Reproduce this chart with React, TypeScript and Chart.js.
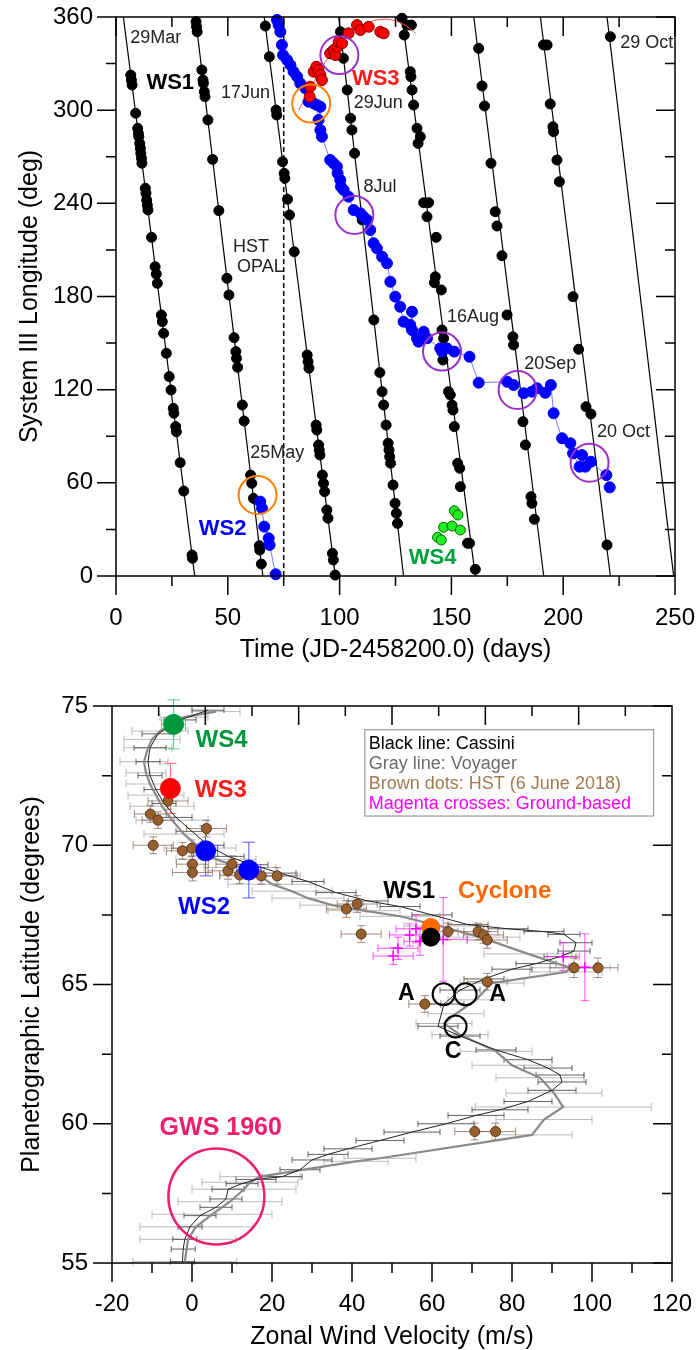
import React, { useEffect, useRef } from 'react';
import { Chart, registerables } from 'chart.js';

Chart.register(...registerables);

const FONT = "'Liberation Sans', Arial, Helvetica, sans-serif";

/* ================= Panel 1 : System III longitude drift ================= */
const timeAxis = { min: 0, max: 250, step: 50, minor: 25 };
const lonAxis = { min: 0, max: 360, step: 60, minor: 30 };

// WS1 drift lines: day at which each line crosses 360 deg and 0 deg
const driftLineStartDay = [3.3, 35.5, 66.3, 99.6, 127.9, 160.0, 189.8, 219.6];
const driftLineEndDay = [35.2, 65.7, 98.1, 128.6, 160.7, 191.3, 221.1, 249.4];

// WS1 measurements [day, longitude]
const ws1Dots = [
  [6.6, 322.6], [6.9, 319.4], [7.2, 316.2], [8.8, 298], [9.7, 288.3], [10.0, 285.1], [10.2, 282.9],
  [10.6, 278.6], [10.9, 275.4], [11.1, 272.2], [11.4, 269], [11.6, 265.8], [13.1, 249.7], [13.4, 246.5],
  [13.7, 242.1], [14.0, 238.9], [14.3, 235.7], [15.9, 218.1], [17.5, 199.2], [18.0, 194.5], [18.5, 188.5],
  [20.3, 168.1], [20.7, 163.8], [21.3, 156.3], [22.5, 143.4], [23.8, 128.4], [24.6, 119.8], [25.6, 108],
  [25.9, 104.8], [26.7, 96.2], [27.0, 92.9], [28.7, 73], [30.3, 54.7], [34.0, 13.5], [34.2, 11.4],
  [35.8, 357], [36.0, 353.8], [36.3, 350.5], [38.4, 325.9], [38.9, 319.4], [39.1, 317.3], [39.5, 311.9],
  [39.8, 308.7], [41.1, 293.7], [43.2, 268.3], [46.0, 235.3], [49.6, 191.7], [50.5, 181], [52.8, 153.5],
  [53.6, 144.5], [53.9, 140.2], [54.4, 134.4], [56.5, 110.1], [57.3, 99.8], [60.2, 65], [60.7, 59.7],
  [61.5, 50], [64.1, 19.5], [64.3, 16.7], [65.0, 7.7],
  [66.8, 354.2], [68.6, 334.4], [71.6, 300.1], [71.9, 296.9], [74.5, 266.8], [75.2, 259.3], [75.5, 256.1],
  [76.7, 242.6], [77.6, 232.5], [79.7, 208.8], [85.5, 142.3], [85.9, 138], [86.3, 133.8], [89.5, 97.2],
  [89.8, 94], [90.6, 84.4], [90.9, 81.1], [91.2, 77.9], [92.3, 65], [92.8, 59.7], [93.3, 54.3], [94.3, 42.5],
  [94.8, 37.2], [96.8, 14.6], [97.2, 10.3], [98.0, 0.6],
  [100.4, 350.5], [101.0, 343], [101.7, 333.4], [103.4, 313], [104.9, 294.8], [105.5, 287.2], [106.7, 272.2],
  [110.1, 229.3], [115.3, 164.9], [118.0, 131], [119.0, 118.7], [119.7, 110.1], [120.8, 97.2], [121.7, 85.5],
  [122.1, 81.1], [122.4, 76.8], [122.8, 72.6], [123.9, 58.6], [124.8, 46.8], [125.4, 40.4], [125.9, 33.9],
  [127.9, 359.2], [130.1, 354.8], [132.1, 354.8], [128.9, 348.4], [131.6, 324.8], [131.9, 321.6], [132.4, 313],
  [133.1, 303.3], [134.6, 288.3], [136.1, 282.9], [135.1, 278.6], [137.6, 240.4], [139.8, 240.4], [139.1, 231.4],
  [143.2, 218.1], [142.8, 192.7], [142.4, 188.9], [145.5, 184.2], [145.8, 158.4], [146.5, 153.1], [146.2, 139.1],
  [148.7, 118.7], [149.5, 116.6], [150.3, 110.1], [150.7, 106.9], [151.3, 96.2], [152.8, 72.6], [153.7, 69.4],
  [154.0, 57.5], [157.2, 21.1], [158.1, 21.1], [160.7, 4.3],
  [162.2, 339.8], [163.7, 315.6], [164.8, 302.7], [167.7, 265.8], [169.6, 234.6], [170.4, 225.4], [172.6, 206.3],
  [174.9, 168.1], [177.5, 154.1], [177.8, 148.8], [182.0, 99.4], [183.1, 84.4], [185.6, 51.1], [186.0, 46.8],
  [187.1, 36.5],
  [191.2, 342], [192.8, 342], [194.2, 304], [195.4, 289.3], [195.7, 286.1], [197.2, 267.9], [198.3, 253.9],
  [204.4, 179.9], [206.9, 146], [210.2, 109], [212.4, 104.3], [219.6, 20],
  [221.1, 347.3],
];

// WS2 [day, longitude], before and after wrapping through 0/360 deg
const ws2EarlyDots = [[64.5, 47.9], [65.3, 43.6], [66.3, 31.8], [68.3, 24.3], [68.7, 20.0], [71.4, 1.1]];
const ws2LateDots = [
  [72.0, 358.1], [72.7, 354.8], [73.5, 350.5], [74.2, 342], [74.7, 335.5], [76.5, 332.3], [78.0, 329.1],
  [79.4, 324.8], [81.0, 321.6], [82.4, 317.3], [84.7, 314.1], [86.1, 305.5], [88.4, 304.4], [89.9, 303.3],
  [90.6, 293.7], [91.4, 302.2], [91.4, 287.2], [92.1, 282.9], [95.8, 267.9], [97.3, 265.8], [98.8, 263.6],
  [99.1, 259.3], [100.3, 255], [100.6, 250.7], [101.8, 248.6], [104.0, 244.3], [106.3, 235.7], [109.3, 233.6],
  [110.7, 231.4], [112.3, 229.3], [113.7, 222.8], [115.2, 214.3], [116.7, 211], [119.0, 205.6], [121.2, 201.4],
  [122.7, 189.5], [124.9, 179.9], [127.1, 173.4], [128.6, 163.8], [131.6, 161.6], [132.4, 170.2], [132.4, 158.4],
  [134.6, 153.1], [135.3, 150.9], [137.6, 157.3], [139.1, 153.1], [145.0, 146.6], [145.8, 144.5], [148.0, 146.6],
  [151.3, 144.5], [158.1, 141.2], [162.2, 124.5], [174.9, 125.1], [177.8, 123], [182.3, 117.7], [186.0, 118.7],
  [188.3, 120.9], [192.0, 118], [194.5, 123], [195.7, 104.8], [199.5, 88.7], [203.2, 85.5], [204.4, 79],
  [207.3, 70.4], [208.4, 77.9], [209.9, 70.4], [212.4, 73.6], [219.3, 65], [220.8, 57.1],
];

// WS3 [day, longitude]
const ws3Dots = [
  [86.6, 308.7], [86.9, 315.1], [88.4, 324.8], [89.6, 328], [90.6, 325.9], [91.4, 322.6], [92.1, 319.4],
  [95.8, 336.6], [97.3, 338.7], [98.1, 335.5], [99.1, 340.9], [99.6, 344.1], [101.1, 343], [104.0, 349.5],
  [107.8, 354.8], [109.3, 351.6], [113.0, 353.7], [118.2, 350.5], [119.7, 349.5],
];
const ws3FitCurve = [
  [81.7, 300], [87.7, 316], [95, 334], [104, 349], [112, 356], [119, 358.5], [125, 357.5], [130, 354], [134, 349.5],
];

// WS4 [day, longitude]
const ws4Dots = [[143.8, 24.9], [145.5, 23.2], [146.5, 31.4], [150.3, 32.2], [151.3, 42], [152.9, 39.3], [154.0, 29.6]];

const hstOpalDay = 75;
const orangeMarks = [[63.3, 52.2], [87.3, 304.3]];
const purpleMarks = [[99.9, 335.5], [106.6, 232.5], [145.8, 144.5], [179.6, 119.8], [211.8, 73]];

const panel1Labels = [
  { text: '29Mar', x: 6.4, y: 346.5, kind: 'date' },
  { text: 'WS1', x: 13.6, y: 317.3, kind: 'ws1' },
  { text: '17Jun', x: 47, y: 310.9, kind: 'date' },
  { text: 'WS3', x: 105.5, y: 320, kind: 'ws3' },
  { text: '29Jun', x: 106.3, y: 304.4, kind: 'date' },
  { text: '8Jul', x: 110.7, y: 250.7, kind: 'date' },
  { text: 'HST', x: 52.3, y: 211.9, kind: 'date' },
  { text: 'OPAL', x: 54.1, y: 199, kind: 'date' },
  { text: '25May', x: 60, y: 79.5, kind: 'date' },
  { text: 'WS2', x: 37, y: 30.3, kind: 'ws2' },
  { text: 'WS4', x: 130.9, y: 11.9, kind: 'ws4' },
  { text: '16Aug', x: 148, y: 167, kind: 'date' },
  { text: '20Sep', x: 182.6, y: 136.5, kind: 'date' },
  { text: '20 Oct', x: 215.1, y: 92.4, kind: 'date' },
  { text: '29 Oct', x: 225.5, y: 343, kind: 'date' },
];

/* ================= Panel 2 : zonal wind profile ================= */
const windAxis = { min: -20, max: 120, step: 20, minor: 10 };
const latAxis = { min: 55, max: 75, step: 5, minor: 2.5 };

// Voyager profile [wind m/s, latitude, wind error]
const voyagerProfile = [
  [6, 74.8, 6], [-2, 74.6, 6], [-8, 74.1, 7], [-10, 73.8, 7], [-11, 73.5, 6], [-12, 73.0, 6], [-11.5, 72.6, 5],
  [-10.5, 72.2, 6], [-9, 71.8, 7], [-7.5, 71.4, 8], [-5, 70.9, 9], [-2, 70.4, 10], [2, 69.9, 9], [6, 69.5, 10],
  [12, 69.2, 9], [17, 68.9, 10], [20, 68.6, 11], [25, 68.35, 10], [29, 68.1, 9], [35, 67.85, 8], [43, 67.65, 9],
  [52, 67.45, 10], [62, 67.1, 9], [72, 66.7, 10], [84, 66.1, 11], [94.5, 65.6, 10], [93.5, 65.45, 9],
  [75, 65.05, 8], [71, 64.45, 7], [66, 63.95, 7], [63, 63.6, 7], [67, 63.2, 7], [76, 62.6, 9], [80, 62.1, 10],
  [87, 61.65, 11], [90.5, 61.1, 12], [92.8, 60.6, 22], [88, 60.15, 12], [85, 59.6, 10], [47, 58.76, 9],
  [41, 58.65, 8], [17, 58.1, 10], [14.5, 57.9, 12], [13, 57.65, 13], [9.5, 57.2, 13], [5, 56.75, 15],
  [1, 56.3, 14], [-1, 55.85, 12], [-1.8, 55.05, 13],
];

// Cassini profile [wind m/s, latitude, wind error]
const cassiniProfile = [
  [4, 74.85, 4], [-3, 74.5, 4], [-8.5, 74.0, 4], [-10.5, 73.5, 4], [-11, 73.0, 3], [-10.5, 72.5, 3], [-9, 72.0, 3],
  [-7, 71.5, 3], [-4, 71.0, 4], [0, 70.5, 4], [4, 70.0, 4], [9, 69.6, 4], [15, 69.3, 4], [22, 69.0, 4],
  [29, 68.7, 4], [36, 68.3, 5], [44, 68.0, 5], [52, 67.8, 5], [60, 67.5, 5], [69, 67.15, 5], [79, 67.0, 5],
  [88, 66.9, 5], [93, 66.8, 4], [96, 66.5, 4], [95.5, 66.2, 4], [92, 66.0, 4], [86, 65.75, 5], [80, 65.55, 5],
  [73, 65.2, 5], [67, 64.8, 5], [63, 64.3, 5], [61.5, 63.5, 5], [67, 63.15, 5], [76, 62.65, 5], [84, 62.3, 6],
  [89, 62.0, 6], [92, 61.75, 6], [92.5, 61.5, 6], [90, 61.2, 6], [84, 60.8, 6], [77, 60.5, 7], [71, 60.3, 7],
  [63.5, 60.0, 7], [55, 59.7, 7], [47, 59.4, 6], [39, 59.1, 6], [34, 58.9, 5], [30, 58.7, 5], [27, 58.35, 5],
  [22.5, 58.1, 5], [16, 58.0, 5], [12.5, 57.85, 4], [9, 57.65, 4], [8.5, 57.3, 4], [6, 57.0, 4], [2, 56.7, 4],
  [-0.5, 56.3, 3], [-1.8, 55.85, 3], [-2.2, 55.5, 3], [-2.4, 55.05, 3],
];

// HST (6 June 2018) measurements
const hstWind = [-6, -10.4, -8.5, 3.6, -9.7, -2.4, -0.1, 0.1, 0.1, 9, 10, 11.9, 17.3, 21.3, 38.6, 41.3, 42.3, 64, 71.5, 72.9, 73.8, 95.5, 101.5, 73.8, 58.2, 70.7, 75.9];
const hstLat = [71.59, 71.12, 70.9, 70.6, 70.0, 69.8, 69.89, 69.32, 69.02, 69.08, 69.32, 68.93, 68.9, 68.9, 67.71, 67.89, 66.81, 66.9, 66.9, 66.78, 66.6, 65.6, 65.6, 65.1, 64.3, 59.72, 59.72];
const hstWindErr = [5, 4, 4, 5, 5, 4, 5, 4, 5, 5, 4, 5, 5, 5, 5, 5, 5, 4, 5, 5, 5, 6, 5, 5, 4, 5, 5];
const hstLatErr = [0.3, 0.3, 0.3, 0.3, 0.3, 0.3, 0.3, 0.3, 0.3, 0.3, 0.3, 0.3, 0.3, 0.3, 0.3, 0.3, 0.3, 0.3, 0.3, 0.3, 0.3, 0.35, 0.35, 0.3, 0.3, 0.3, 0.3];

// Ground-based measurements
const groundWind = [54.4, 51.5, 50.3, 57, 62.8, 56, 92.8, 98.2];
const groundLat = [66.78, 66.3, 66.02, 66.55, 66.62, 67.0, 66.0, 65.62];
const groundWindErr = [5, 5, 5, 4, 6, 5, 4, 4];
const groundLatErr = [0.4, 0.4, 0.3, 0.5, 1.5, 0.5, 0.5, 1.2];

// Storm drift velocities [wind, latitude, wind error, latitude error]
const ws4Wind = [[-4.6, 74.34, 3, 0.88]];
const ws3Wind = [[-5.4, 72.04, 2, 0.9]];
const ws2Wind = [[3.4, 69.8, 3, 0.9], [14.2, 69.11, 3, 1.0]];
const cycloneWind = [[59.7, 67.05]];
const ws1Wind = [[59.7, 66.7]];
const ovalMarks = [[62.9, 64.65], [68.4, 64.65], [65.9, 63.49]];
const gws1960Mark = [[6.1, 57.39]];

const panel2Labels = [
  { text: 'WS4', x: 0.9, y: 73.77, kind: 'ws4' },
  { text: 'WS3', x: 0.7, y: 71.98, kind: 'ws3' },
  { text: 'WS2', x: -3.5, y: 67.76, kind: 'ws2' },
  { text: 'WS1', x: 47.8, y: 68.36, kind: 'ws1' },
  { text: 'Cyclone', x: 66.5, y: 68.36, kind: 'cyc' },
  { text: 'A', x: 51.5, y: 64.66, kind: 'oval' },
  { text: 'A', x: 74.3, y: 64.62, kind: 'oval' },
  { text: 'C', x: 63.2, y: 62.59, kind: 'oval' },
  { text: 'GWS 1960', x: -8.1, y: 59.84, kind: 'gws' },
];

const legendLines = [
  { text: 'Black line: Cassini', color: '#000000' },
  { text: 'Gray line: Voyager', color: '#6b6b6b' },
  { text: 'Brown dots: HST (6 June 2018)', color: '#a47a52' },
  { text: 'Magenta crosses: Ground-based', color: '#ff00ff' },
];

/* ================= styles ================= */
const labelStyles: any = {
  date: { font: `18px ${FONT}`, color: '#222222' },
  ws1: { font: `bold 22px ${FONT}`, color: '#000000' },
  ws2: { font: `bold 22px ${FONT}`, color: '#0000ff' },
  ws3: { font: `bold 22px ${FONT}`, color: '#ff1a1a' },
  ws4: { font: `bold 22px ${FONT}`, color: '#00a03c' },
};
const labelStyles2: any = {
  ws1: { font: `bold 24px ${FONT}`, color: '#000000' },
  ws2: { font: `bold 24px ${FONT}`, color: '#0000ff' },
  ws3: { font: `bold 24px ${FONT}`, color: '#ff1a1a' },
  ws4: { font: `bold 24px ${FONT}`, color: '#00963c' },
  cyc: { font: `bold 24px ${FONT}`, color: '#ff6600' },
  oval: { font: `bold 23px ${FONT}`, color: '#000000' },
  gws: { font: `bold 25px ${FONT}`, color: '#ee1e6e' },
};

/* ================= plugins ================= */
function makeFramePlugin(cfg: any) {
  return {
    id: 'frameTicks',
    afterDraw(chart: any) {
      const { ctx, chartArea: ca, scales } = chart;
      const xs = scales.x;
      const ys = scales.y;
      const L = 19;
      const S = 10;
      const isMajor = (v: number, min: number, step: number) => {
        const r = (v - min) / step;
        return Math.abs(r - Math.round(r)) < 1e-6;
      };
      ctx.save();
      ctx.strokeStyle = '#000';
      ctx.lineWidth = 1.5;
      ctx.beginPath();
      for (let k = 0; ; k++) {
        const v = xs.min + k * cfg.xMinor;
        if (v > xs.max + 1e-9) break;
        const p = xs.getPixelForValue(v);
        const len = isMajor(v, xs.min, cfg.xMajor) ? L : S;
        ctx.moveTo(p, ca.bottom);
        ctx.lineTo(p, ca.bottom + len);
        if (!cfg.topDivisions) {
          ctx.moveTo(p, ca.top);
          ctx.lineTo(p, ca.top + len);
        }
      }
      if (cfg.topDivisions) {
        const n = cfg.topDivisions;
        for (let k = 1; k < n; k++) {
          const p = ca.left + (k * (ca.right - ca.left)) / n;
          ctx.moveTo(p, ca.top);
          ctx.lineTo(p, ca.top + (k % 2 === 0 ? L : S));
        }
      }
      for (let k = 0; ; k++) {
        const v = ys.min + k * cfg.yMinor;
        if (v > ys.max + 1e-9) break;
        const p = ys.getPixelForValue(v);
        const len = isMajor(v, ys.min, cfg.yMajor) ? L : S;
        ctx.moveTo(ca.left, p);
        ctx.lineTo(ca.left - len, p);
        ctx.moveTo(ca.right, p);
        ctx.lineTo(ca.right - len, p);
      }
      ctx.stroke();
      ctx.strokeRect(ca.left, ca.top, ca.right - ca.left, ca.bottom - ca.top);
      ctx.restore();
    },
  };
}

const errorBarPlugin = {
  id: 'errorBars',
  beforeDatasetsDraw(chart: any) {
    const { ctx, scales } = chart;
    const xs = scales.x;
    const ys = scales.y;
    chart.data.datasets.forEach((ds: any) => {
      const eb = ds.errorBar;
      if (!eb) return;
      ctx.save();
      ctx.strokeStyle = eb.color;
      ctx.lineWidth = eb.width || 1;
      ctx.beginPath();
      ds.data.forEach((pt: any) => {
        const px = xs.getPixelForValue(pt.x);
        const py = ys.getPixelForValue(pt.y);
        if (pt.xErr) {
          const a = xs.getPixelForValue(pt.x - pt.xErr);
          const b = xs.getPixelForValue(pt.x + pt.xErr);
          ctx.moveTo(a, py); ctx.lineTo(b, py);
          ctx.moveTo(a, py - eb.cap); ctx.lineTo(a, py + eb.cap);
          ctx.moveTo(b, py - eb.cap); ctx.lineTo(b, py + eb.cap);
        }
        if (pt.yErr) {
          const a = ys.getPixelForValue(pt.y - pt.yErr);
          const b = ys.getPixelForValue(pt.y + pt.yErr);
          ctx.moveTo(px, a); ctx.lineTo(px, b);
          ctx.moveTo(px - eb.cap, a); ctx.lineTo(px + eb.cap, a);
          ctx.moveTo(px - eb.cap, b); ctx.lineTo(px + eb.cap, b);
        }
      });
      ctx.stroke();
      ctx.restore();
    });
  },
};

function makeLabelPlugin(labels: any[], styles: any, legend?: any) {
  return {
    id: 'textLabels',
    afterDatasetsDraw(chart: any) {
      const { ctx, scales } = chart;
      const xs = scales.x;
      const ys = scales.y;
      ctx.save();
      ctx.textBaseline = 'middle';
      ctx.textAlign = 'left';
      labels.forEach((l) => {
        const st = styles[l.kind];
        ctx.font = st.font;
        ctx.fillStyle = st.color;
        ctx.fillText(l.text, xs.getPixelForValue(l.x), ys.getPixelForValue(l.y));
      });
      if (legend) {
        const x0 = xs.getPixelForValue(legend.box[0]);
        const x1 = xs.getPixelForValue(legend.box[1]);
        const y0 = ys.getPixelForValue(legend.box[2]);
        const y1 = ys.getPixelForValue(legend.box[3]);
        ctx.fillStyle = '#ffffff';
        ctx.fillRect(x0, y0, x1 - x0, y1 - y0);
        ctx.strokeStyle = '#9a9a9a';
        ctx.lineWidth = 1.2;
        ctx.strokeRect(x0, y0, x1 - x0, y1 - y0);
        ctx.font = `18px ${FONT}`;
        legend.lines.forEach((ln: any, i: number) => {
          ctx.fillStyle = ln.color;
          ctx.fillText(ln.text, xs.getPixelForValue(legend.textX), ys.getPixelForValue(legend.rows[i]));
        });
      }
      ctx.restore();
    },
  };
}

/* ================= chart configs ================= */
const pts = (arr: number[][]) => arr.map(([x, y]) => ({ x, y }));

function axisCommon(title: string, min: number, max: number, step: number, vertical: boolean, size: number, titlePad: any, tickPad: number) {
  return {
    type: 'linear',
    min,
    max,
    ticks: { stepSize: step, autoSkip: false, maxRotation: 0, color: '#000', padding: tickPad, font: { family: FONT, size: 24 } },
    grid: { display: false, drawTicks: false },
    border: { display: false },
    title: { display: true, text: title, color: '#000', font: { family: FONT, size: 25, lineHeight: 1 }, padding: titlePad },
    afterFit: (s: any) => {
      if (vertical) s.width = size;
      else s.height = size;
      s.paddingTop = 0;
      s.paddingBottom = 0;
      s.paddingLeft = 0;
      s.paddingRight = 0;
    },
  };
}

function topConfig(): any {
  const driftSets = driftLineStartDay.map((d0, i) => ({
    label: 'drift' + i,
    data: [{ x: d0, y: lonAxis.max }, { x: driftLineEndDay[i], y: lonAxis.min }],
    showLine: true,
    borderColor: '#000',
    borderWidth: 1.2,
    pointRadius: 0,
    order: 9,
  }));
  return {
    type: 'scatter',
    data: {
      datasets: [
        ...driftSets,
        {
          label: 'HST OPAL',
          data: [{ x: hstOpalDay, y: lonAxis.min }, { x: hstOpalDay, y: lonAxis.max }],
          showLine: true, borderColor: '#000', borderWidth: 1.5, borderDash: [5, 3], pointRadius: 0, order: 8,
        },
        {
          label: 'WS1', data: pts(ws1Dots), pointRadius: 5, pointBackgroundColor: '#000', pointBorderColor: '#000',
          pointBorderWidth: 1, clip: false, order: 7,
        },
        {
          label: 'WS3 fit', data: pts(ws3FitCurve), showLine: true, tension: 0.4, borderColor: '#ff4d4d',
          borderWidth: 1, pointRadius: 0, order: 6,
        },
        {
          label: 'WS2a', data: pts(ws2EarlyDots), showLine: true, borderColor: '#7a7aff', borderWidth: 1,
          pointRadius: 5.5, pointBackgroundColor: '#0000ff', pointBorderColor: '#0000ff', pointBorderWidth: 1, clip: false, order: 5,
        },
        {
          label: 'WS2b', data: pts(ws2LateDots), showLine: true, borderColor: '#7a7aff', borderWidth: 1,
          pointRadius: 5.5, pointBackgroundColor: '#0000ff', pointBorderColor: '#0000ff', pointBorderWidth: 1, clip: false, order: 5,
        },
        {
          label: 'WS3', data: pts(ws3Dots), pointRadius: 5.5, pointBackgroundColor: '#ff0000', pointBorderColor: '#7a0000',
          pointBorderWidth: 1, clip: false, order: 4,
        },
        {
          label: 'WS4', data: pts(ws4Dots), pointRadius: 5, pointBackgroundColor: '#22ee22', pointBorderColor: '#006600',
          pointBorderWidth: 1, clip: false, order: 3,
        },
        {
          label: 'orange', data: pts(orangeMarks), pointRadius: 19, pointBackgroundColor: 'rgba(0,0,0,0)',
          pointBorderColor: '#ff7f00', pointBorderWidth: 2, clip: false, order: 2,
        },
        {
          label: 'purple', data: pts(purpleMarks), pointRadius: 19, pointBackgroundColor: 'rgba(0,0,0,0)',
          pointBorderColor: '#9932cc', pointBorderWidth: 2, clip: false, order: 1,
        },
      ],
    },
    options: {
      animation: false,
      responsive: false,
      devicePixelRatio: 1,
      events: [],
      layout: { autoPadding: false, padding: { top: 17, right: 24, left: 0, bottom: 0 } },
      plugins: { legend: { display: false }, tooltip: { enabled: false } },
      scales: {
        x: axisCommon('Time (JD-2458200.0) (days)', timeAxis.min, timeAxis.max, timeAxis.step, false, 104, { top: 0, bottom: 17 }, 28),
        y: axisCommon('System III Longitude (deg)', lonAxis.min, lonAxis.max, lonAxis.step, true, 116, { top: 18, bottom: 0 }, 23),
      },
    },
    plugins: [
      makeLabelPlugin(panel1Labels, labelStyles),
      makeFramePlugin({ xMajor: timeAxis.step, xMinor: timeAxis.minor, yMajor: lonAxis.step, yMinor: lonAxis.minor }),
    ],
  };
}

function bottomConfig(): any {
  const stormSet = (label: string, arr: number[][], color: string, radius: number, errColor: string) => ({
    label,
    data: arr.map((r) => ({ x: r[0], y: r[1], xErr: r[2], yErr: r[3] })),
    pointRadius: radius,
    pointBackgroundColor: color,
    pointBorderColor: color,
    pointBorderWidth: 1,
    clip: false,
    order: 2,
    errorBar: { color: errColor, cap: 6, width: 1 },
  });
  return {
    type: 'scatter',
    data: {
      datasets: [
        {
          label: 'Voyager',
          data: voyagerProfile.map(([x, y, e]) => ({ x, y, xErr: e })),
          showLine: true, borderColor: '#8a8a8a', borderWidth: 2.2, pointRadius: 0, order: 8,
          errorBar: { color: 'rgba(175,175,175,0.85)', cap: 4, width: 1 },
        },
        {
          label: 'Cassini',
          data: cassiniProfile.map(([x, y, e]) => ({ x, y, xErr: e })),
          showLine: true, borderColor: '#222', borderWidth: 1, pointRadius: 0, order: 7,
          errorBar: { color: 'rgba(70,70,70,0.85)', cap: 3, width: 1 },
        },
        {
          label: 'HST',
          data: hstWind.map((x, i) => ({ x, y: hstLat[i], xErr: hstWindErr[i], yErr: hstLatErr[i] })),
          pointRadius: 5, pointBackgroundColor: '#965f2d', pointBorderColor: '#5a3719', pointBorderWidth: 1, order: 5, clip: false,
          errorBar: { color: 'rgba(125,80,65,0.65)', cap: 4, width: 1 },
        },
        {
          label: 'Ground',
          data: groundWind.map((x, i) => ({ x, y: groundLat[i], xErr: groundWindErr[i], yErr: groundLatErr[i] })),
          pointStyle: 'cross', pointRadius: 5, borderColor: '#ff00ff', pointBorderColor: '#ff00ff', pointBorderWidth: 1.5, order: 6,
          errorBar: { color: 'rgba(255,40,255,0.8)', cap: 4, width: 1 },
        },
        stormSet('WS4', ws4Wind, '#00963c', 10, 'rgba(60,200,120,0.9)'),
        stormSet('WS3', ws3Wind, '#ff0000', 10, 'rgba(255,90,90,0.9)'),
        stormSet('WS2', ws2Wind, '#0000ff', 10, 'rgba(70,70,255,0.9)'),
        {
          label: 'Cyclone', data: pts(cycloneWind), pointRadius: 9, pointBackgroundColor: '#ff6a00',
          pointBorderColor: '#ff6a00', order: 3,
        },
        {
          label: 'WS1', data: pts(ws1Wind), pointRadius: 9, pointBackgroundColor: '#000', pointBorderColor: '#000', order: 2,
        },
        {
          label: 'ovals', data: pts(ovalMarks), pointRadius: 11, pointBackgroundColor: 'rgba(0,0,0,0)',
          pointBorderColor: '#000', pointBorderWidth: 2, order: 1,
        },
        {
          label: 'GWS', data: pts(gws1960Mark), pointRadius: 48, pointBackgroundColor: 'rgba(0,0,0,0)',
          pointBorderColor: '#ee1e6e', pointBorderWidth: 2.5, order: 1,
        },
      ],
    },
    options: {
      animation: false,
      responsive: false,
      devicePixelRatio: 1,
      events: [],
      layout: { autoPadding: false, padding: { top: 26, right: 27, left: 0, bottom: 0 } },
      plugins: { legend: { display: false }, tooltip: { enabled: false } },
      scales: {
        x: axisCommon('Zonal Wind Velocity (m/s)', windAxis.min, windAxis.max, windAxis.step, false, 87, { top: 0, bottom: 0 }, 27),
        y: axisCommon('Planetographic Latitude (degrees)', latAxis.min, latAxis.max, latAxis.step, true, 112, { top: 20, bottom: 0 }, 24),
      },
    },
    plugins: [
      errorBarPlugin,
      makeLabelPlugin(panel2Labels, labelStyles2, {
        box: [43.2, 115.4, 74.15, 71.05],
        textX: 44.2,
        rows: [73.65, 72.93, 72.19, 71.47],
        lines: legendLines,
      }),
      makeFramePlugin({ xMajor: windAxis.step, xMinor: windAxis.minor, yMajor: latAxis.step, yMinor: latAxis.minor, topDivisions: 12 }),
    ],
  };
}

function ChartCanvas({ makeConfig, top, height }: any) {
  const ref = useRef<HTMLCanvasElement | null>(null);
  useEffect(() => {
    const chart = new Chart(ref.current as HTMLCanvasElement, makeConfig());
    return () => chart.destroy();
  }, []);
  return (
    <canvas
      ref={ref}
      width={699}
      height={height}
      style={{ position: 'absolute', left: 0, top, width: 699, height, display: 'block' }}
    />
  );
}

export default function App() {
  return (
    <div style={{ position: 'absolute', left: 0, top: 0, width: 699, height: 1350, background: '#fff', overflow: 'hidden' }}>
      <ChartCanvas makeConfig={topConfig} top={0} height={680} />
      <ChartCanvas makeConfig={bottomConfig} top={680} height={670} />
    </div>
  );
}
